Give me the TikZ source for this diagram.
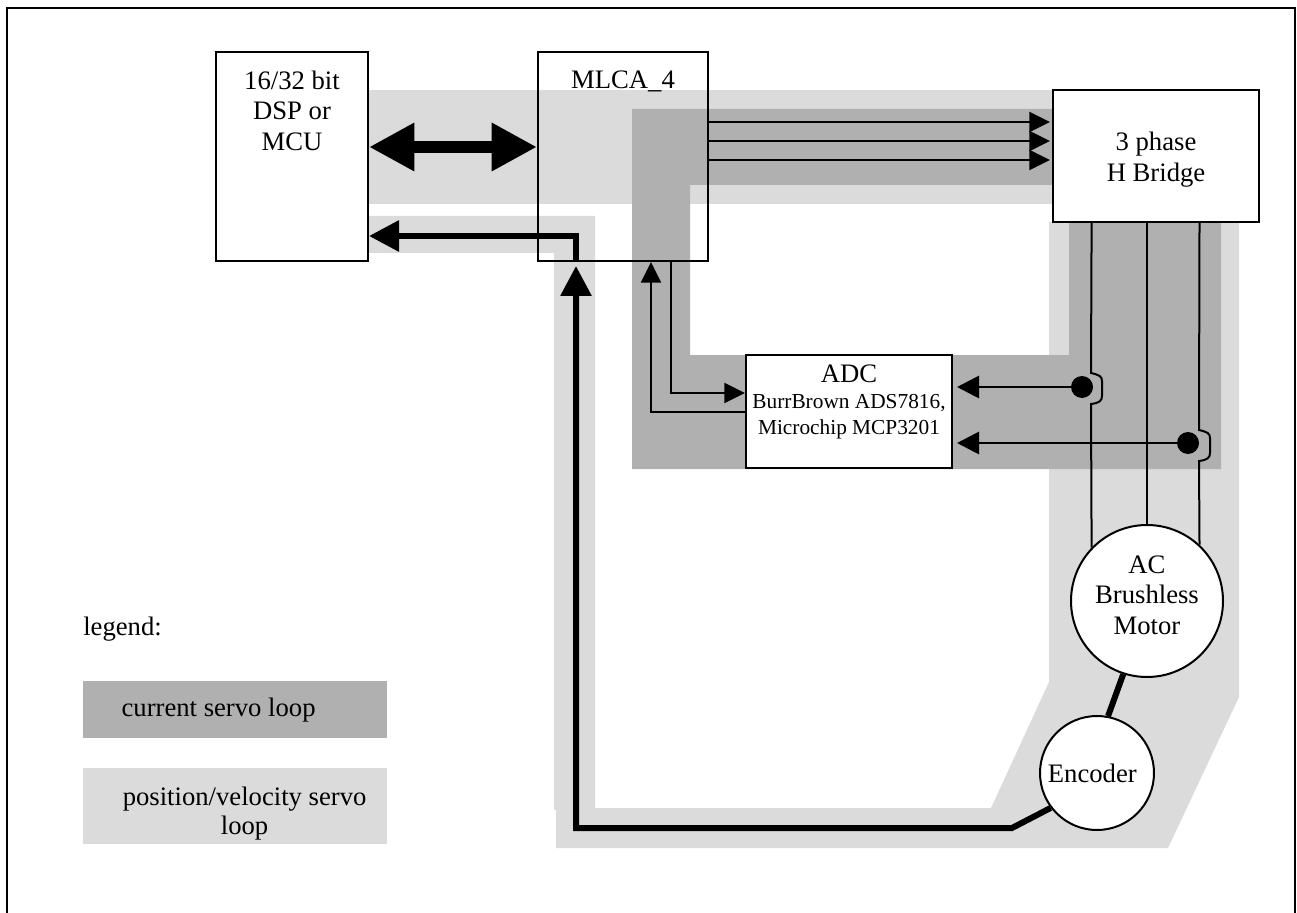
\documentclass[tikz,border=0pt]{standalone}
\usepackage{fontspec}
\setmainfont{Liberation Serif}
\usetikzlibrary{arrows.meta, positioning}
\newcommand{\partfont}{\fontsize{16}{19}\selectfont}

\begin{document}
\begin{tikzpicture}[
    x=0.75pt, y=-0.75pt,
    font=\fontsize{20}{23}\selectfont,
    block/.style={draw=black, line width=1.5pt, inner sep=0pt, align=center},
    whitebox/.style={block, fill=white},
    disc/.style={circle, whitebox},
    tapdot/.style={circle, fill=black, inner sep=0pt, minimum size=16.5pt},
    darkzone/.style={fill=black!31},
    lightzone/.style={fill=black!14},
    legendbox/.style={inner sep=0pt, minimum width=228pt, align=center},
    wire/.style={line width=1.5pt},
    signal/.style={wire, -{Triangle[length=15.5pt, width=15pt]}, shorten >=1.5pt},
    sense/.style={line width=2.2pt, -{Triangle[length=16.5pt, width=16.5pt]}, shorten >=3pt},
    fat/.style={line width=4.5pt},
    fatarr/.style={fat, -{Triangle[length=22.5pt, width=22.5pt]}},
    busarr/.style={line width=9pt, {Triangle[length=34pt, width=34pt]}-{Triangle[length=34pt, width=34pt]}}
  ]
    \useasboundingbox (0,0) rectangle (1297,913);
    \draw[line width=1.5pt] (7,913) -- (7,8) -- (1295,8) -- (1295,913);

    \path[lightzone] (368,90) rectangle (1052,204);
    \path[lightzone] (368,216) -- (595,216) -- (595,808) -- (991,808) -- (1049,682) -- (1049,222)
      -- (1239,222) -- (1239,697) -- (1168,848) -- (556,848) -- (556,810) -- (554,810) -- (554,253) -- (368,253) -- cycle;
    \path[darkzone] (632,109) -- (1052,109) -- (1052,185) -- (690,185) -- (690,355) -- (1069,355)
      -- (1069,222) -- (1221,222) -- (1221,469) -- (632,469) -- cycle;

    \node[block, minimum width=114pt, minimum height=156.75pt] (dsp) at (292,156.5) {16/32 bit\\DSP or\\MCU\\[46pt]~};
    \node[block, minimum width=127.5pt, minimum height=156.75pt, right=126pt of dsp] (mlca) {MLCA\_4\\[92pt]~};
    \node[whitebox, minimum width=154.5pt, minimum height=99pt] (hb) at (1156,156) {3 phase\\H Bridge\\[-24.5pt]~};
    \node[whitebox, minimum width=154.5pt, minimum height=84.75pt] (adc) at (849,411.5)
      {ADC\\[-3pt]\partfont BurrBrown ADS7816,\\[-4pt]\partfont Microchip MCP3201\\[-5pt]\partfont ~};
    \node[disc, minimum size=114pt] (mot) at (1147,601) {AC\\Brushless\\Motor\\[-14pt]~};
    \node[disc, minimum size=85.5pt] (enc) at (1097,773) {Encoder\hspace{7pt}};

    \node[anchor=west, inner sep=0pt] (leg) at (83,629) {legend:};
    \node[legendbox, darkzone, minimum height=42.75pt, anchor=north west] (legcur) at (83,681) {current servo loop\hspace{25pt}};
    \node[legendbox, lightzone, minimum height=57pt, below=21.75pt of legcur] (legpos)
      {\hspace*{14pt}position/velocity servo\\[-1.5pt]\hspace*{14pt}loop\\[-30.5pt]~};

    \draw[busarr] (dsp.east |- 0,147) -- (mlca.west |- 0,147);

    \draw[signal] (mlca.east |- 0,122) -- (hb.west |- 0,122);
    \draw[signal] (mlca.east |- 0,141) -- (hb.west |- 0,141);
    \draw[signal] (mlca.east |- 0,160) -- (hb.west |- 0,160);

    \coordinate (sensein) at (651,412);
    \coordinate (ctrlout) at (671,393);
    \draw[signal, shorten >=0pt] (sensein -| adc.west) -- (sensein) -- (sensein |- mlca.south);
    \draw[signal, shorten >=0pt] (ctrlout |- mlca.south) -- (ctrlout) -- (ctrlout -| adc.west);

    \node[tapdot] (tapa) at (1082,387) {};
    \node[tapdot] (tapb) at (1188,443) {};
    \draw[sense] (tapa) -- (tapa -| adc.east);
    \draw[sense] (tapb) -- (tapb -| adc.east);

    \draw[wire] (mot.136.7 |- hb.south) -- (1091,373) .. controls (1099,375) and (1102,376) .. (1102,381)
      -- (1102,396) .. controls (1102,401) and (1099,403) .. (1091,404) -- (mot.136.7);
    \draw[wire] (mot.north |- hb.south) -- (mot.north);
    \draw[wire] (mot.47.3 |- hb.south) -- (1199,430) .. controls (1207,432) and (1210,433) .. (1210,438)
      -- (1210,453) .. controls (1210,458) and (1207,460) .. (1199,461) -- (mot.47.3);

    \coordinate (bend) at (1012,828);
    \coordinate (corner) at (576,828);
    \coordinate (dspin) at (576,236);
    \draw[fat] (mot.252) -- (enc.79);
    \draw[fatarr, shorten >=3pt] (enc.217) -- (bend) -- (corner) -- (corner |- mlca.south);
    \draw[fatarr] (corner |- mlca.south) -- (dspin) -- (dspin -| dsp.east);
\end{tikzpicture}
\end{document}
